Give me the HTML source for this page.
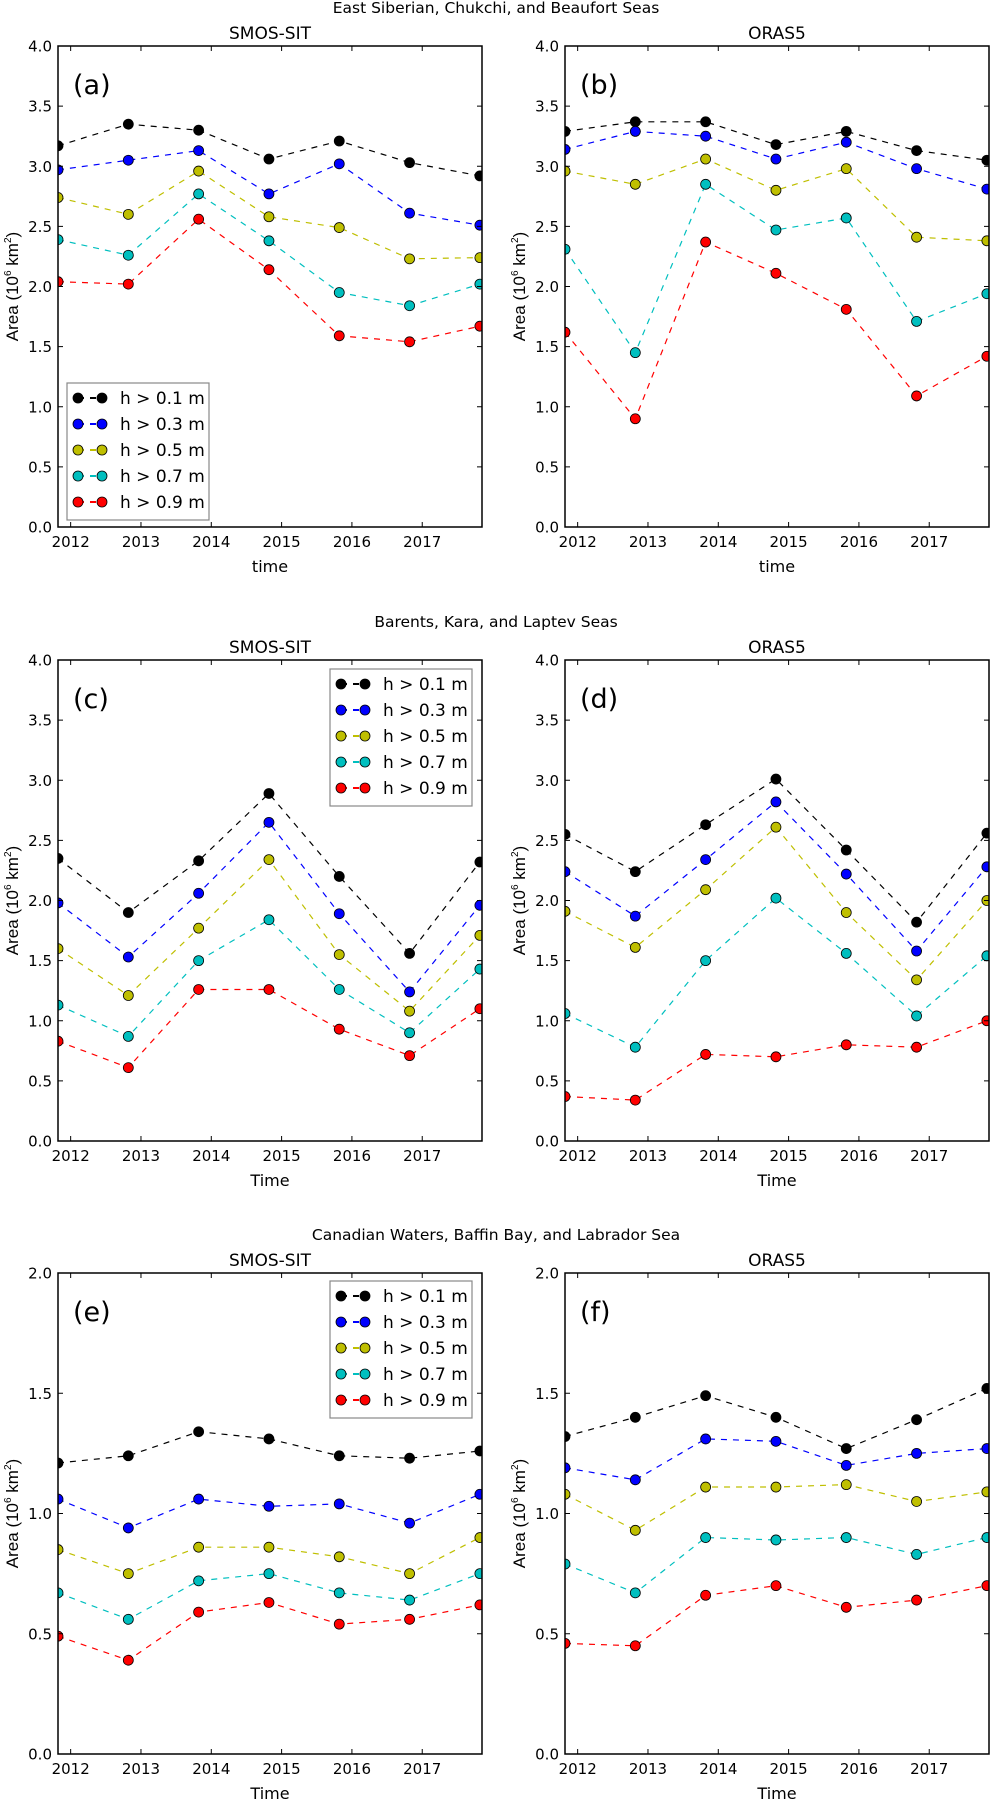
<!DOCTYPE html>
<html><head><meta charset="utf-8">
<style>
html,body{margin:0;padding:0;background:#fff;}
svg{display:block;font-family:"DejaVu Sans","Liberation Sans",sans-serif;}
</style></head>
<body>
<svg id="fig" width="992" height="1801" viewBox="0 0 992 1801" xmlns="http://www.w3.org/2000/svg"></svg>
<script>
const years = [2012, 2013, 2014, 2015, 2016, 2017];
const pointTimes = [2011.82, 2012.82, 2013.82, 2014.82, 2015.82, 2016.82, 2017.82];
const seriesLabels = ['h > 0.1 m', 'h > 0.3 m', 'h > 0.5 m', 'h > 0.7 m', 'h > 0.9 m'];
const yTicksTop = [0, 0.5, 1.0, 1.5, 2.0, 2.5, 3.0, 3.5, 4.0];
const yTicksBottom = [0, 0.5, 1.0, 1.5, 2.0];

const aH01 = [3.17, 3.35, 3.30, 3.06, 3.21, 3.03, 2.92];
const aH03 = [2.97, 3.05, 3.13, 2.77, 3.02, 2.61, 2.51];
const aH05 = [2.74, 2.60, 2.96, 2.58, 2.49, 2.23, 2.24];
const aH07 = [2.39, 2.26, 2.77, 2.38, 1.95, 1.84, 2.02];
const aH09 = [2.04, 2.02, 2.56, 2.14, 1.59, 1.54, 1.67];

const bH01 = [3.29, 3.37, 3.37, 3.18, 3.29, 3.13, 3.05];
const bH03 = [3.14, 3.29, 3.25, 3.06, 3.20, 2.98, 2.81];
const bH05 = [2.96, 2.85, 3.06, 2.80, 2.98, 2.41, 2.38];
const bH07 = [2.31, 1.45, 2.85, 2.47, 2.57, 1.71, 1.94];
const bH09 = [1.62, 0.90, 2.37, 2.11, 1.81, 1.09, 1.42];

const cH01 = [2.35, 1.90, 2.33, 2.89, 2.20, 1.56, 2.32];
const cH03 = [1.98, 1.53, 2.06, 2.65, 1.89, 1.24, 1.96];
const cH05 = [1.60, 1.21, 1.77, 2.34, 1.55, 1.08, 1.71];
const cH07 = [1.13, 0.87, 1.50, 1.84, 1.26, 0.90, 1.43];
const cH09 = [0.83, 0.61, 1.26, 1.26, 0.93, 0.71, 1.10];

const dH01 = [2.55, 2.24, 2.63, 3.01, 2.42, 1.82, 2.56];
const dH03 = [2.24, 1.87, 2.34, 2.82, 2.22, 1.58, 2.28];
const dH05 = [1.91, 1.61, 2.09, 2.61, 1.90, 1.34, 2.00];
const dH07 = [1.06, 0.78, 1.50, 2.02, 1.56, 1.04, 1.54];
const dH09 = [0.37, 0.34, 0.72, 0.70, 0.80, 0.78, 1.00];

const eH01 = [1.21, 1.24, 1.34, 1.31, 1.24, 1.23, 1.26];
const eH03 = [1.06, 0.94, 1.06, 1.03, 1.04, 0.96, 1.08];
const eH05 = [0.85, 0.75, 0.86, 0.86, 0.82, 0.75, 0.90];
const eH07 = [0.67, 0.56, 0.72, 0.75, 0.67, 0.64, 0.75];
const eH09 = [0.49, 0.39, 0.59, 0.63, 0.54, 0.56, 0.62];

const fH01 = [1.32, 1.40, 1.49, 1.40, 1.27, 1.39, 1.52];
const fH03 = [1.19, 1.14, 1.31, 1.30, 1.20, 1.25, 1.27];
const fH05 = [1.08, 0.93, 1.11, 1.11, 1.12, 1.05, 1.09];
const fH07 = [0.79, 0.67, 0.90, 0.89, 0.90, 0.83, 0.90];
const fH09 = [0.46, 0.45, 0.66, 0.70, 0.61, 0.64, 0.70];

const colors = ['#000000', '#0000ff', '#bfbf00', '#00bfbf', '#ff0000'];
const NS = 'http://www.w3.org/2000/svg';
const svg = document.getElementById('fig');
function mk(tag, attrs, parent, text) {
  const e = document.createElementNS(NS, tag);
  for (const k in attrs) e.setAttribute(k, attrs[k]);
  if (text !== undefined) e.textContent = text;
  (parent || svg).appendChild(e);
  return e;
}

const XMIN = 2011.82, XMAX = 2017.85, W = 424, H = 481;
const panels = [
  {id:'a', x:58, y:46, ymax:4, ticks:yTicksTop, title:'SMOS-SIT', xl:'time', data:[aH01,aH03,aH05,aH07,aH09], legend:{x:67,y:383,w:142,h:137}},
  {id:'b', x:565, y:46, ymax:4, ticks:yTicksTop, title:'ORAS5', xl:'time', data:[bH01,bH03,bH05,bH07,bH09]},
  {id:'c', x:58, y:660, ymax:4, ticks:yTicksTop, title:'SMOS-SIT', xl:'Time', data:[cH01,cH03,cH05,cH07,cH09], legend:{x:330,y:669,w:142,h:137}},
  {id:'d', x:565, y:660, ymax:4, ticks:yTicksTop, title:'ORAS5', xl:'Time', data:[dH01,dH03,dH05,dH07,dH09]},
  {id:'e', x:58, y:1273, ymax:2, ticks:yTicksBottom, title:'SMOS-SIT', xl:'Time', data:[eH01,eH03,eH05,eH07,eH09], legend:{x:330,y:1281,w:142,h:137}},
  {id:'f', x:565, y:1273, ymax:2, ticks:yTicksBottom, title:'ORAS5', xl:'Time', data:[fH01,fH03,fH05,fH07,fH09]}
];
const suptitles = [
  {t:'East Siberian, Chukchi, and Beaufort Seas', y:13},
  {t:'Barents, Kara, and Laptev Seas', y:627},
  {t:'Canadian Waters, Baffin Bay, and Labrador Sea', y:1240}
];
suptitles.forEach(s => {
  const el = mk('text', {x:496, y:s.y, 'text-anchor':'middle', 'font-size':'15.5'}, svg, s.t);
  
  
});

panels.forEach(p => {
  const g = mk('g', {});
  
  
  const xs = v => p.x + (v - XMIN) / (XMAX - XMIN) * W;
  const ys = v => p.y + H - v / p.ymax * H;
  const t = mk('text', {x:p.x + W/2, y:p.y - 7, 'text-anchor':'middle', 'font-size':'17'}, g, p.title);
  
  
  const cp = mk('clipPath', {id:'clip' + p.id}, g);
  mk('rect', {x:p.x, y:p.y, width:W, height:H}, cp);
  const plot = mk('g', {'clip-path':'url(#clip' + p.id + ')'}, g);
  p.data.forEach((vals, si) => {
    const pts = vals.map((v, i) => xs(pointTimes[i]).toFixed(1) + ',' + ys(v).toFixed(1)).join(' ');
    const line = mk('polyline', {points:pts, fill:'none', stroke:colors[si], 'stroke-width':1.2, 'stroke-dasharray':'6,6'}, plot);
    
    
    vals.forEach((v, i) => {
      const c = mk('circle', {cx:xs(pointTimes[i]), cy:ys(v), r:5, fill:colors[si], stroke:'#000', 'stroke-width':0.8}, plot);
      
      
    });
  });
  const fr = mk('rect', {x:p.x, y:p.y, width:W, height:H, fill:'none', stroke:'#000', 'stroke-width':1.5}, g);
  
  
  p.ticks.forEach(v => {
    const y = ys(v);
    mk('line', {x1:p.x, x2:p.x+5, y1:y, y2:y, stroke:'#000', 'stroke-width':1}, g);
    mk('line', {x1:p.x+W, x2:p.x+W-5, y1:y, y2:y, stroke:'#000', 'stroke-width':1}, g);
    const tl = mk('text', {x:p.x - 6, y:y + 5.5, 'text-anchor':'end', 'font-size':'15'}, g, v.toFixed(1));
    
    
  });
  years.forEach(yr => {
    const x = xs(yr);
    mk('line', {x1:x, x2:x, y1:p.y+H, y2:p.y+H-5, stroke:'#000', 'stroke-width':1}, g);
    mk('line', {x1:x, x2:x, y1:p.y, y2:p.y+5, stroke:'#000', 'stroke-width':1}, g);
    const tl = mk('text', {x:x, y:p.y + H + 20, 'text-anchor':'middle', 'font-size':'15'}, g, String(yr));
    
    
  });
  const xl = mk('text', {x:p.x + W/2, y:p.y + H + 45, 'text-anchor':'middle', 'font-size':'16'}, g, p.xl);
  
  
  const yl = mk('text', {transform:'translate(' + (p.x - 40) + ',' + (p.y + H/2) + ') rotate(-90)', 'text-anchor':'middle', 'font-size':'17', 'font-family':'"Liberation Sans", sans-serif'}, g);
  
  
  mk('tspan', {}, yl, 'Area (10');
  mk('tspan', {'font-size':'10', dy:'-7'}, yl, '6');
  mk('tspan', {dy:'7'}, yl, ' km');
  mk('tspan', {'font-size':'10', dy:'-7'}, yl, '2');
  mk('tspan', {dy:'7'}, yl, ')');
  const pl = mk('text', {x:p.x + 15, y:p.y + 48, 'font-size':'27'}, g, '(' + p.id + ')');
  
  
  if (p.legend) {
    const L = p.legend;
    const lg = mk('g', {}, g);
    
    
    mk('rect', {x:L.x, y:L.y, width:L.w, height:L.h, fill:'#fff', stroke:'#888', 'stroke-width':1.2}, lg);
    seriesLabels.forEach((lab, si) => {
      const cy = L.y + 15 + si * 26;
      const row = mk('g', {}, lg);
      
      
      mk('line', {x1:L.x+11, x2:L.x+35, y1:cy, y2:cy, stroke:colors[si], 'stroke-width':2, 'stroke-dasharray':'6,6'}, row);
      mk('circle', {cx:L.x+11, cy:cy, r:5, fill:colors[si], stroke:'#000', 'stroke-width':0.8}, row);
      mk('circle', {cx:L.x+35, cy:cy, r:5, fill:colors[si], stroke:'#000', 'stroke-width':0.8}, row);
      mk('text', {x:L.x+53, y:cy+6, 'font-size':'17'}, row, lab);
    });
  }
});
</script>
</body></html>
